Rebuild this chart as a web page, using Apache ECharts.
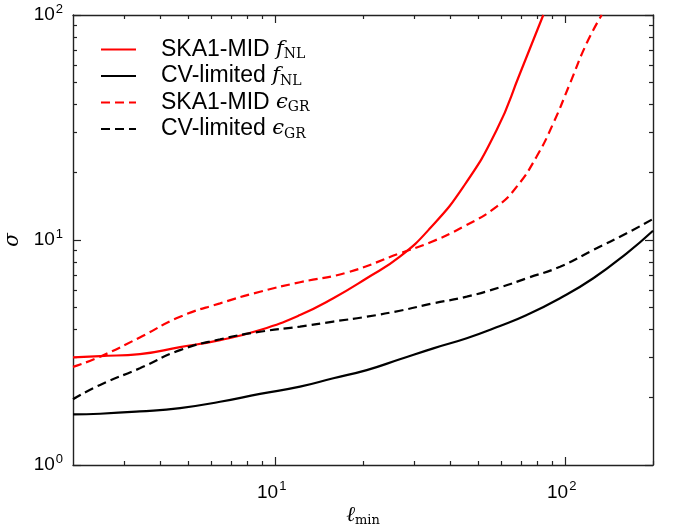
<!DOCTYPE html>
<html>
<head>
<meta charset="utf-8">
<script src="https://cdn.jsdelivr.net/npm/echarts@6/dist/echarts.min.js"></script>
<style>
  html, body { margin: 0; padding: 0; background: #fff; }
  #chart { width: 673px; height: 525px; }
</style>
</head>
<body>
<div id="chart"></div>
<script>
// Forecast uncertainties sigma versus the minimum multipole ell_min.
const skaFnlEll   = [2.0, 2.48, 3.40, 4.68, 6.43, 8.83, 12.13, 15.80, 20.60, 26.8, 34.05, 44.4, 57.8, 69.6, 83.7];
const skaFnlSigma = [3.01, 3.05, 3.11, 3.34, 3.59, 3.98, 4.64, 5.51, 6.76, 8.43, 11.27, 17.26, 30.8, 55.1, 100];

const cvFnlEll   = [2.0, 2.48, 3.40, 4.68, 6.43, 8.83, 12.13, 15.80, 20.60, 26.8, 34.95, 45.57, 59.35, 73.4, 95.6, 124.5, 162.3, 200];
const cvFnlSigma = [1.68, 1.69, 1.73, 1.79, 1.91, 2.07, 2.23, 2.43, 2.64, 2.95, 3.30, 3.66, 4.15, 4.64, 5.51, 6.76, 8.73, 11.0];

const skaEgrEll   = [2.0, 2.48, 3.40, 4.68, 6.43, 8.83, 12.13, 17.57, 26.8, 34.05, 44.4, 57.8, 67.8, 79.4, 90.6, 103.5, 118.1, 133.1];
const skaEgrSigma = [2.73, 3.03, 3.69, 4.56, 5.23, 5.89, 6.49, 7.16, 8.73, 9.75, 11.46, 14.06, 17.26, 23.5, 33.0, 49.7, 74.9, 100];

const cvEgrEll   = [2.0, 2.48, 3.40, 4.68, 6.43, 8.83, 12.13, 15.80, 20.60, 26.8, 34.95, 45.57, 59.35, 73.4, 95.6, 124.5, 162.3, 200];
const cvEgrSigma = [1.96, 2.27, 2.69, 3.24, 3.62, 3.91, 4.12, 4.34, 4.56, 4.85, 5.23, 5.60, 6.16, 6.76, 7.61, 9.03, 10.71, 12.40];

// Axis ticks and labels
const xMajor = [10, 100];
const xMajorExp = ['1', '2'];
const xMinor = [3, 4, 5, 6, 7, 8, 9, 20, 30, 40, 50, 60, 70, 80, 90, 200];
const yMajor = [1, 10, 100];
const yMajorExp = ['0', '1', '2'];
const yMinor = [2, 3, 4, 5, 6, 7, 8, 9, 20, 30, 40, 50, 60, 70, 80, 90];

// Legend entries
const seriesNames = ['SKA1-MID f_NL', 'CV-limited f_NL', 'SKA1-MID eps_GR', 'CV-limited eps_GR'];
const legendPrefix = ['SKA1-MID', 'CV-limited', 'SKA1-MID', 'CV-limited'];
const legendSymbol = ['f', 'f', '\u03F5', '\u03F5'];
const legendSub = ['NL', 'NL', 'GR', 'GR'];

const zip = (xs, ys) => xs.map((x, i) => [x, ys[i]]);

const tickRich = {
  m: { fontFamily: 'Liberation Sans', fontSize: 19, color: '#000' },
  s: { fontFamily: 'Liberation Sans', fontSize: 13, color: '#000', padding: [0, 0, 12, 1] }
};
const xTickRich = {
  m: tickRich.m,
  s: { fontFamily: 'Liberation Sans', fontSize: 13, color: '#000', padding: [0, 8, 12, 1] }
};
const powLabel = (majors, exps) => v => {
  const i = majors.findIndex(m => Math.abs(m - v) / m < 1e-6);
  return i < 0 ? '' : '{m|10}{s|' + exps[i] + '}';
};

const frame = { show: true, onZero: false, lineStyle: { color: '#222', width: 1.4 } };

function xAx(pos, major, withLabel) {
  return {
    type: 'log', logBase: 10, min: 2, max: 200, position: pos,
    axisLine: major ? frame : { show: false },
    axisTick: { show: true, inside: true, length: major ? 8 : 4,
                lineStyle: { color: '#222', width: 1.2 },
                customValues: major ? xMajor : xMinor },
    axisLabel: withLabel ? {
      show: true, customValues: xMajor, margin: 15,
      formatter: powLabel(xMajor, xMajorExp), rich: xTickRich
    } : { show: false },
    splitLine: { show: false }, minorTick: { show: false }
  };
}
function yAx(pos, major, withLabel) {
  return {
    type: 'log', logBase: 10, min: 1, max: 100, position: pos,
    axisLine: major ? frame : { show: false },
    axisTick: { show: true, inside: true, length: major ? 8 : 4,
                lineStyle: { color: '#222', width: 1.2 },
                customValues: major ? yMajor : yMinor },
    axisLabel: withLabel ? {
      show: true, customValues: yMajor, margin: 10,
      formatter: powLabel(yMajor, yMajorExp), rich: tickRich
    } : { show: false },
    splitLine: { show: false }, minorTick: { show: false }
  };
}

const xAxes = [xAx('bottom', true, true), xAx('bottom', false, false), xAx('top', true, false), xAx('top', false, false)];
xAxes[0].name = '{l|\u2113}{sb|min}';
xAxes[0].nameLocation = 'middle';
xAxes[0].nameGap = 39;
xAxes[0].nameMoveOverlap = false;
xAxes[0].nameTextStyle = {
  rich: {
    l: { fontFamily: 'DejaVu Serif', fontStyle: 'italic', fontSize: 21, color: '#000' },
    sb: { fontFamily: 'DejaVu Serif', fontSize: 13, color: '#000', padding: [10, 0, 0, 0] }
  }
};

const yAxes = [yAx('left', true, true), yAx('left', false, false), yAx('right', true, false), yAx('right', false, false)];
yAxes[0].name = '\u03C3';
yAxes[0].nameLocation = 'middle';
yAxes[0].nameRotate = 90;
yAxes[0].nameGap = 50;
yAxes[0].nameMoveOverlap = false;
yAxes[0].nameTextStyle = { fontFamily: 'DejaVu Serif', fontStyle: 'italic', fontSize: 20, color: '#000' };

const lineSeries = (name, data, color, dashed) => ({
  name, type: 'line', xAxisIndex: 0, yAxisIndex: 0, data,
  showSymbol: false, symbol: 'none', smooth: 0.5,
  lineStyle: { color, width: 2.2, type: dashed ? [9, 5] : 'solid' },
  itemStyle: { color }
});

const chart = echarts.init(document.getElementById('chart'), null, { renderer: 'canvas' });
chart.setOption({
  animation: false,
  backgroundColor: '#fff',
  grid: { left: 73, right: 20, top: 15, bottom: 60, containLabel: false, outerBoundsMode: 'none' },
  xAxis: xAxes,
  yAxis: yAxes,
  legend: {
    orient: 'vertical', left: 95, top: 33, padding: 5,
    itemWidth: 35, itemHeight: 14, itemGap: 3,
    data: seriesNames,
    itemStyle: { color: 'rgba(0,0,0,0)', borderWidth: 0 },
    formatter: name => {
      const i = seriesNames.indexOf(name);
      return '{t|' + legendPrefix[i] + ' }{mi|' + legendSymbol[i] + '}{sb|' + legendSub[i] + '}';
    },
    textStyle: {
      padding: [0, 0, 0, 20],
      rich: {
        t: { fontFamily: 'Liberation Sans', fontSize: 23, color: '#000' },
        mi: { fontFamily: 'DejaVu Serif', fontStyle: 'italic', fontSize: 21, color: '#000' },
        sb: { fontFamily: 'DejaVu Serif', fontSize: 14, color: '#000', padding: [10, 0, 0, 0] }
      }
    }
  },
  series: [
    lineSeries(seriesNames[0], zip(skaFnlEll, skaFnlSigma), '#ff0000', false),
    lineSeries(seriesNames[1], zip(cvFnlEll, cvFnlSigma), '#000000', false),
    lineSeries(seriesNames[2], zip(skaEgrEll, skaEgrSigma), '#ff0000', true),
    lineSeries(seriesNames[3], zip(cvEgrEll, cvEgrSigma), '#000000', true)
  ]
});
</script>
</body>
</html>
